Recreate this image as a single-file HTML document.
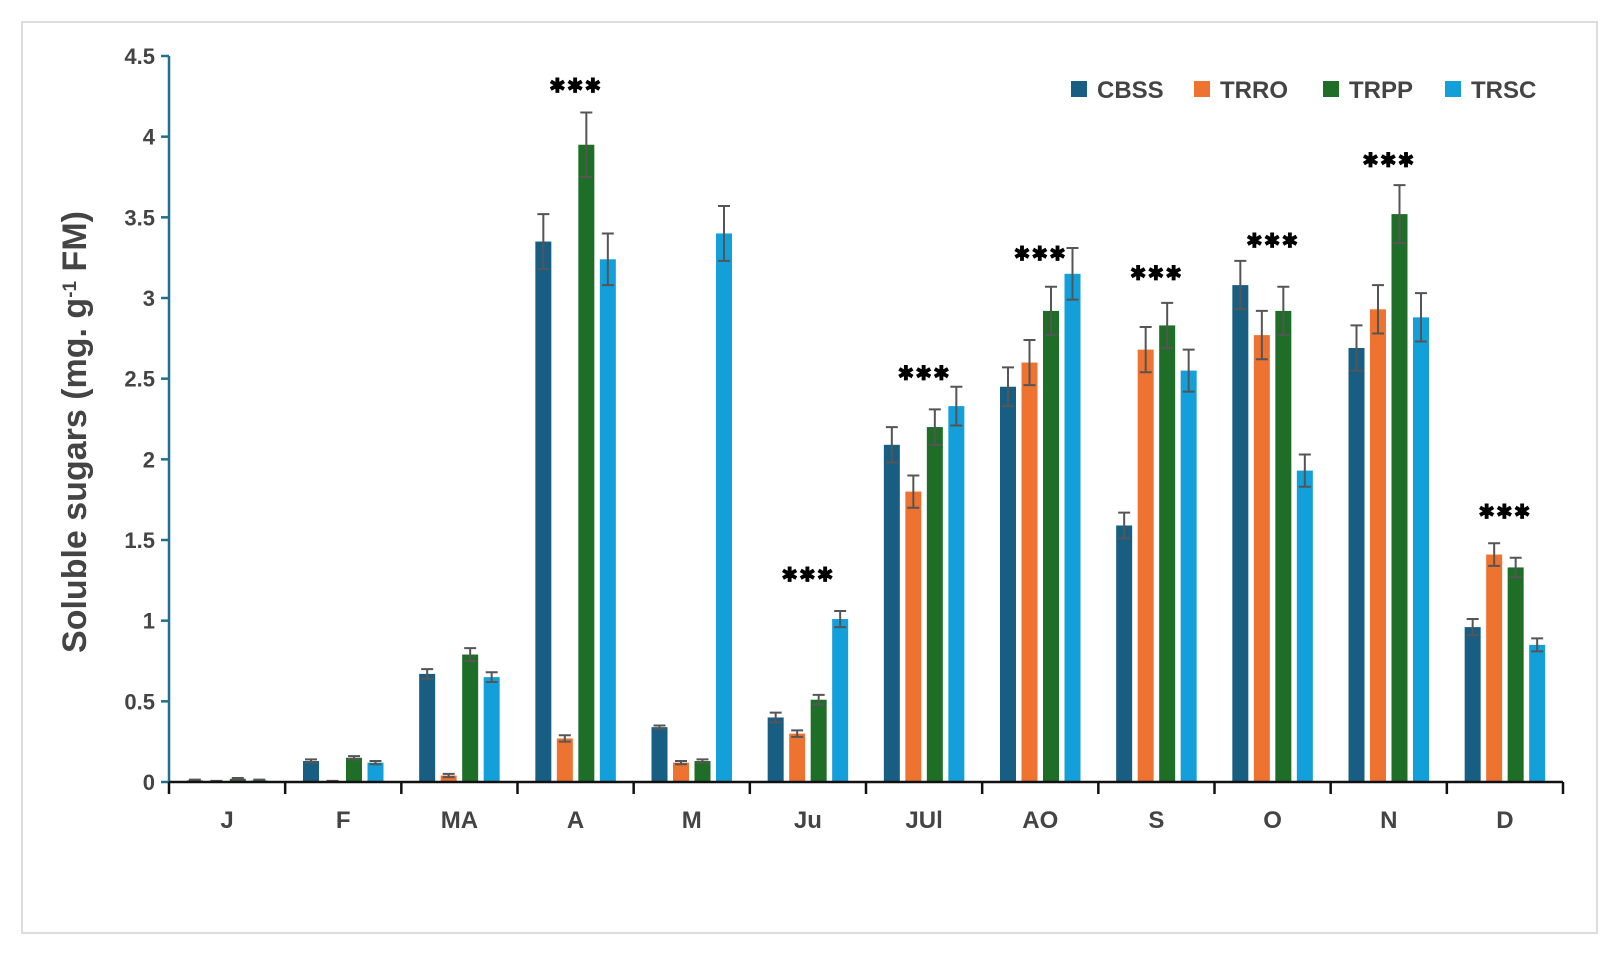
<!DOCTYPE html>
<html><head><meta charset="utf-8"><style>
html,body{margin:0;padding:0;background:#fff;}
svg text{font-family:"Liberation Sans",sans-serif;}
</style></head><body>
<svg id="chart" width="1619" height="960" viewBox="0 0 1619 960">
<rect x="22" y="22" width="1575" height="911" fill="#fff" stroke="#ddd" stroke-width="2"/>
<g id="bars"></g>
<g id="axes"></g>
<text transform="translate(86,432) rotate(-90)" text-anchor="middle" font-size="34" font-weight="bold" fill="#444">Soluble sugars (mg. g<tspan baseline-shift="super" font-size="19">-1</tspan> FM)</text>
<g id="legend"></g>
</svg>
<script>
const categories=["J","F","MA","A","M","Ju","JUl","AO","S","O","N","D"];
const seriesNames=["CBSS","TRRO","TRPP","TRSC"];
const cbss=[0.01,0.13,0.67,3.35,0.34,0.40,2.09,2.45,1.59,3.08,2.69,0.96];
const trro=[0.005,0.005,0.04,0.27,0.12,0.30,1.80,2.60,2.68,2.77,2.93,1.41];
const trpp=[0.02,0.15,0.79,3.95,0.13,0.51,2.20,2.92,2.83,2.92,3.52,1.33];
const trsc=[0.01,0.12,0.65,3.24,3.40,1.01,2.33,3.15,2.55,1.93,2.88,0.85];
const cbssErr=[0.005,0.01,0.03,0.17,0.01,0.03,0.11,0.12,0.08,0.15,0.14,0.05];
const trroErr=[0.002,0.002,0.01,0.02,0.01,0.02,0.10,0.14,0.14,0.15,0.15,0.07];
const trppErr=[0.005,0.01,0.04,0.20,0.01,0.03,0.11,0.15,0.14,0.15,0.18,0.06];
const trscErr=[0.005,0.01,0.03,0.16,0.17,0.05,0.12,0.16,0.13,0.10,0.15,0.04];
const starCats=["A","Ju","JUl","AO","S","O","N","D"];
const starValues=[4.31,1.28,2.53,3.27,3.15,3.35,3.85,1.67];
const yTicks=["0","0.5","1","1.5","2","2.5","3","3.5","4","4.5"];
const colors=["#175e82","#ee7330","#1e6e28","#139fd9"];
const NS="http://www.w3.org/2000/svg";
const X0=169,X1=1563,Y0=782,Y45=56,YMAX=4.5;
const gw=(X1-X0)/categories.length;
function y(v){return Y0-(v/YMAX)*(Y0-Y45);}
function gx(i){return X0+i*gw;}
function mk(tag,attrs,parent){const e=document.createElementNS(NS,tag);for(const k in attrs)e.setAttribute(k,attrs[k]);parent.appendChild(e);return e;}
const bars=document.getElementById('bars'),axes=document.getElementById('axes'),legend=document.getElementById('legend');
const vals=[cbss,trro,trpp,trsc],errs=[cbssErr,trroErr,trppErr,trscErr];
const bw=16,stride=21.5;
categories.forEach((c,i)=>{
  const cx=gx(i)+gw/2;
  const start=cx-(3*stride+bw)/2;
  for(let s=0;s<4;s++){
    const v=vals[s][i],e=errs[s][i];
    const bx=start+s*stride;
    const r=mk('rect',{x:bx,y:y(v),width:bw,height:Y0-y(v),fill:colors[s]},bars);
    
    
    const mx=bx+bw/2;
    const eb=mk('path',{d:`M${mx},${y(v+e)}V${y(Math.max(0,v-e))}M${mx-6},${y(v+e)}H${mx+6}M${mx-6},${y(Math.max(0,v-e))}H${mx+6}`,stroke:'#555','stroke-width':2,fill:'none'},bars);
    
    
  }
  const t=mk('text',{x:cx,y:828,'text-anchor':'middle','font-size':24,'font-weight':'bold',fill:'#444'},axes);
  t.textContent=c;
  
  
});
starCats.forEach((c,k)=>{
  const i=categories.indexOf(c);
  const t=mk('text',{x:gx(i)+gw/2,y:y(starValues[k])+6,'text-anchor':'middle','font-size':20,'font-weight':'bold',fill:'#000','letter-spacing':'1'},bars);
  t.textContent='\u2731\u2731\u2731';
  
  
});
const ya=mk('line',{x1:X0,y1:Y45,x2:X0,y2:Y0,stroke:'#1f6f8f','stroke-width':2.5},axes);


yTicks.forEach((lab,k)=>{
  const v=parseFloat(lab);
  const tk=mk('line',{x1:X0-8,y1:y(v),x2:X0,y2:y(v),stroke:'#1f6f8f','stroke-width':2.5},axes);
  
  
  const t=mk('text',{x:X0-14,y:y(v)+8,'text-anchor':'end','font-size':22,'font-weight':'bold',fill:'#444'},axes);
  t.textContent=lab;
  
  
});
const xa=mk('line',{x1:X0,y1:Y0,x2:X1,y2:Y0,stroke:'#111','stroke-width':2.5},axes);


for(let i=0;i<=categories.length;i++){
  const tk=mk('line',{x1:gx(i),y1:Y0,x2:gx(i),y2:Y0+12,stroke:'#111','stroke-width':2.5},axes);
  
  
}
const legX=[1071,1194,1323,1445];
seriesNames.forEach((n,s)=>{
  const g=mk('g',{},legend);
  
  
  mk('rect',{x:legX[s],y:81,width:16,height:16,fill:colors[s]},g);
  const t=mk('text',{x:legX[s]+26,y:98,'font-size':24,'font-weight':'bold',fill:'#444'},g);
  t.textContent=n;
});
</script>
</body></html>
